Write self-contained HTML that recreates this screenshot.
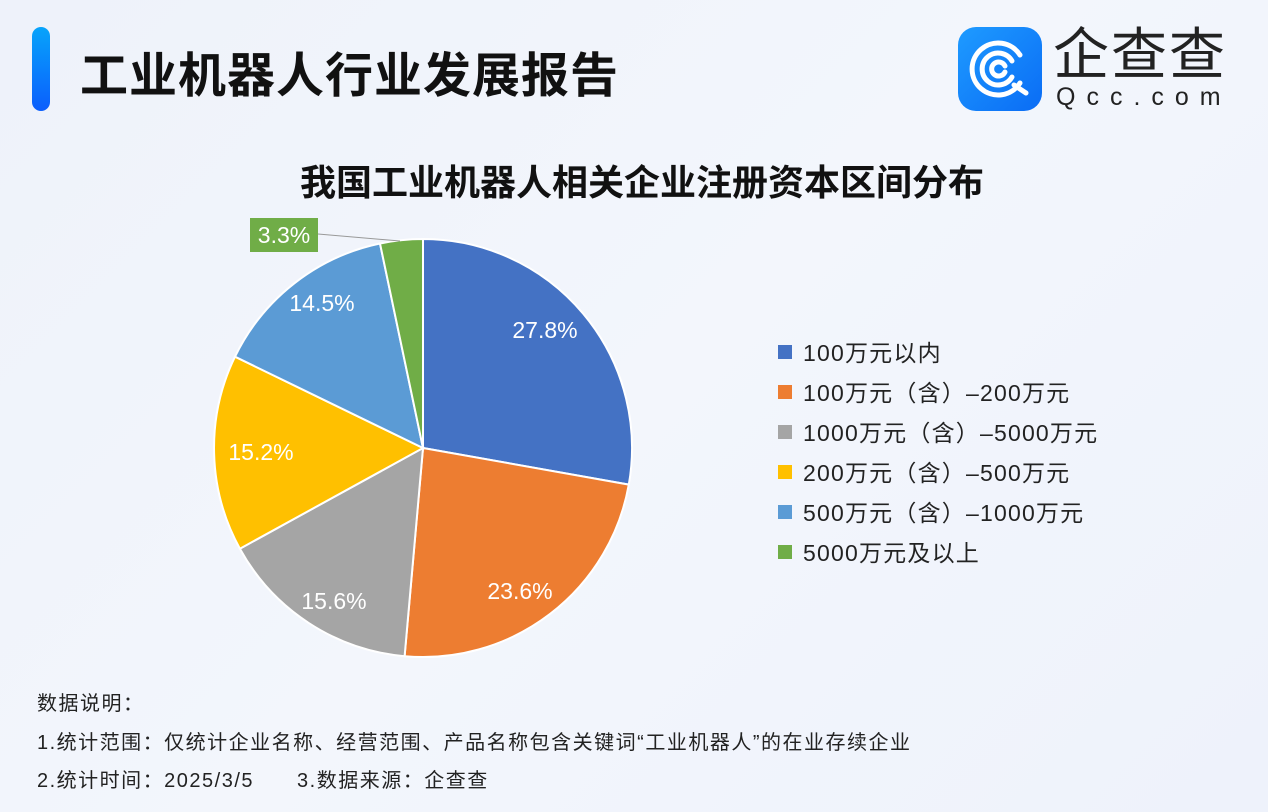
<!DOCTYPE html>
<html><head><meta charset="utf-8"><style>
body{margin:0;width:1268px;height:812px;overflow:hidden;background:linear-gradient(135deg,#eef2fa,#f3f6fc 50%,#eef2fb);font-family:"Liberation Sans","Noto Sans CJK SC",sans-serif;position:relative;color:#111}
.t{position:absolute;white-space:nowrap}
</style></head><body>
<div style="position:absolute;left:32px;top:27px;width:18px;height:84px;border-radius:9px;background:linear-gradient(#07a4fb,#0b5efc)"></div>
<div class="t" style="left:80px;top:36px;font-size:48px;font-weight:bold;letter-spacing:1px">工业机器人行业发展报告</div>
<div style="position:absolute;left:958px;top:27px;width:84px;height:84px;border-radius:18px;background:linear-gradient(135deg,#1e9bff,#0a6cf5)"></div>
<svg style="position:absolute;left:958px;top:27px" width="84" height="84"><g fill="none" stroke="#fff" stroke-width="5" stroke-linecap="round"><path d="M62 56 A26 26 0 1 1 62 28"/><path d="M54 50 A16 16 0 1 1 54 34"/><path d="M47 45 A7 7 0 1 1 47 39"/><path d="M56 58 L68 66"/></g></svg>
<div class="t" style="left:1053px;top:25px;font-size:56px;color:#222;letter-spacing:2px;line-height:60px">企查查</div>
<div class="t" style="left:1056px;top:83px;font-size:25px;color:#222;letter-spacing:11px">Qcc.com</div>
<div class="t" style="left:0;width:1284px;text-align:center;top:154px;font-size:36px;font-weight:bold">我国工业机器人相关企业注册资本区间分布</div>
<svg style="position:absolute;left:0;top:0" width="1268" height="812">
<g stroke="#fff" stroke-width="2">
<path d="M423 448 L423 239 A209 209 0 0 1 628.8 484.6Z" fill="#4472c4"/>
<path d="M423 448 L628.8 484.6 A209 209 0 0 1 404.6 656.2Z" fill="#ed7d31"/>
<path d="M423 448 L404.6 656.2 A209 209 0 0 1 239.9 548.7Z" fill="#a5a5a5"/>
<path d="M423 448 L239.9 548.7 A209 209 0 0 1 235 356.7Z" fill="#ffc000"/>
<path d="M423 448 L235 356.7 A209 209 0 0 1 380 243.5Z" fill="#5b9bd5"/>
<path d="M423 448 L380 243.5 A209 209 0 0 1 423 239Z" fill="#70ad47"/>
</g>
<path d="M318 234 L400 241" stroke="#999" stroke-width="1" fill="none"/>
<rect x="250" y="218" width="68" height="34" fill="#70ad47"/>
<g font-size="23" fill="#fff" text-anchor="middle" font-family="Liberation Sans,sans-serif">
<text x="545" y="338">27.8%</text><text x="520" y="599">23.6%</text><text x="334" y="609">15.6%</text><text x="261" y="460">15.2%</text><text x="322" y="311">14.5%</text><text x="284" y="243">3.3%</text>
</g>
<g font-size="23" fill="#222" letter-spacing="1.2" font-family="Liberation Sans,Noto Sans CJK SC,sans-serif">
<rect x="778" y="345" width="14" height="14" fill="#4472c4"/><text x="803" y="361">100万元以内</text>
<rect x="778" y="385" width="14" height="14" fill="#ed7d31"/><text x="803" y="401">100万元（含）–200万元</text>
<rect x="778" y="425" width="14" height="14" fill="#a5a5a5"/><text x="803" y="441">1000万元（含）–5000万元</text>
<rect x="778" y="465" width="14" height="14" fill="#ffc000"/><text x="803" y="481">200万元（含）–500万元</text>
<rect x="778" y="505" width="14" height="14" fill="#5b9bd5"/><text x="803" y="521">500万元（含）–1000万元</text>
<rect x="778" y="545" width="14" height="14" fill="#70ad47"/><text x="803" y="561">5000万元及以上</text>
</g>
<g font-size="20" fill="#222" letter-spacing="1.5" font-family="Liberation Sans,Noto Sans CJK SC,sans-serif">
<text x="37" y="710">数据说明：</text>
<text x="37" y="749">1.统计范围：仅统计企业名称、经营范围、产品名称包含关键词“工业机器人”的在业存续企业</text>
<text x="37" y="787">2.统计时间：2025/3/5　　3.数据来源：企查查</text>
</g>
</svg>
</body></html>
